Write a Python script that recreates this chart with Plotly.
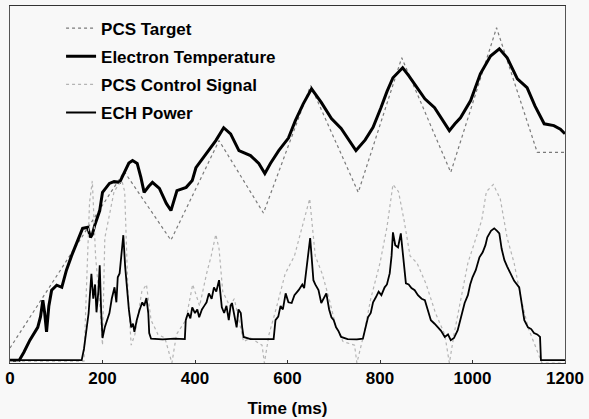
import plotly.graph_objects as go

# ---- data (time in ms, signal in arbitrary units 0-100) ----
target_t = [0, 247, 348, 452, 548, 650, 753, 847, 953, 1052, 1140, 1200]
target_v = [4.2, 53.6, 34.4, 62.3, 42.0, 77.7, 47.8, 85.5, 53.4, 93.9, 59.0, 59.0]

te_t = [0, 20, 30, 43, 60, 66, 71, 75, 79, 84, 90, 101, 112, 122, 133, 146, 157, 168, 174, 178,
        183, 194, 200, 215, 225, 237, 247, 257, 265, 275, 283, 290, 300, 308, 323, 338, 348, 361,
        381, 394, 402, 424, 445, 462, 477, 495, 520, 538, 551, 563, 581, 602, 617, 634, 652, 673,
        695, 716, 731, 748, 768, 785, 802, 815, 828, 849, 862, 875, 897, 918, 935, 950, 962, 974,
        996, 1017, 1039, 1058, 1075, 1097, 1118, 1135, 1155, 1176, 1190, 1200]
te_v = [0.8, 0.8, 3, 6.4, 10, 13, 17.6, 14, 8.7, 16, 20.4, 21.8, 21.2, 26, 30, 34.4, 37.7, 38, 35.2, 36,
        38.5, 42.7, 47.8, 50.3, 50.8, 50.6, 53.4, 56, 56.7, 55.9, 52, 47.8, 49.5, 50.6, 48.9, 44.7, 42.7, 48.3,
        49.2, 51.1, 54.7, 58.7, 62.3, 65.9, 64.2, 59.5, 58.1, 55.9, 53.1, 55.9, 59.5, 63, 67.9, 72.6, 76.8, 73,
        68.5, 65.7, 62.8, 59.5, 62.5, 66, 71.5, 76, 79.9, 82.7, 80.5, 78.2, 74, 71.5, 68, 65.1, 67, 68.7,
        73.5, 81, 86, 88, 85.5, 79.6, 77.1, 72, 67, 66.5, 65.5, 64.2]

ctrl_t = [0, 160, 165, 172, 178, 185, 195, 200, 205, 215, 225, 235, 242, 248, 255, 262, 270, 285, 295,
          305, 320, 335, 350, 360, 380, 395, 410, 425, 435, 445, 452, 460, 475, 485, 495, 505, 520, 545,
          550, 560, 575, 595, 615, 635, 648, 660, 675, 690, 705, 720, 745, 750, 765, 780, 800, 815, 828,
          840, 852, 865, 880, 900, 920, 940, 950, 960, 975, 990, 1005, 1020, 1030, 1045, 1060, 1075, 1090,
          1105, 1120, 1135, 1150, 1200]
ctrl_v = [0.5, 0.5, 20, 45, 51, 30, 15, 5, 35, 42, 48, 50, 51, 48, 20, 5, 8, 20, 22,
          12, 8, 7, 0, 8, 12, 22, 16, 25, 30, 36, 32, 20, 16, 18, 12, 6, 7, 5,
          0, 8, 15, 25, 30, 40, 46, 30, 25, 18, 10, 6, 5, 0, 8, 18, 28, 38, 50,
          48, 40, 30, 28, 22, 14, 8, 0, 8, 18, 28, 34, 40, 48, 50, 46, 35, 28,
          18, 10, 5, 0, 0]

ech_t = [0, 155, 160, 165, 170, 176, 180, 184, 187, 191, 194, 197, 200, 205, 210, 215, 220, 226, 230, 233,
         237, 241, 245, 249, 252, 257, 262, 266, 269, 274, 280, 286, 290, 295, 299, 301, 305, 330, 355, 378,
         380, 385, 390, 394, 400, 405, 409, 415, 420, 425, 430, 436, 441, 446, 452, 455, 458, 463, 468, 473,
         477, 480, 485, 490, 494, 499, 502, 505, 520, 545, 570, 574, 580, 585, 590, 596, 602, 609, 615, 624,
         632, 636, 641, 645, 649, 652, 656, 660, 667, 673, 678, 684, 690, 695, 700, 705, 710, 716, 730, 750,
         763, 768, 774, 780, 785, 791, 797, 803, 810, 815, 821, 825, 828, 833, 839, 845, 850, 856, 862, 868,
         875, 882, 890, 897, 903, 910, 918, 925, 932, 940, 947, 953, 960, 968, 975, 983, 990, 995, 1000, 1007,
         1015, 1022, 1028, 1032, 1040, 1047, 1053, 1058, 1063, 1069, 1075, 1082, 1090, 1101, 1106, 1112, 1120,
         1127, 1133, 1140, 1146, 1148, 1200]
ech_v = [0.8, 0.8, 4, 9.2, 14, 25, 18, 22, 14.2, 20, 27.4, 15, 7, 10, 12, 14, 18, 21.2, 17, 24,
         25.1, 30.2, 35.8, 27, 22.3, 15, 10, 11, 8.7, 12, 14.8, 17, 16, 18.2, 14, 8.4, 6.8, 6.6, 6.8, 6.7,
         12, 14, 12.5, 15.6, 14, 15, 12.8, 15, 16, 17, 19.5, 18, 21.2, 20, 23.2, 19, 15.6, 14, 16, 12,
         16, 16.8, 13, 10, 15, 14, 10, 7.3, 6.7, 6.6, 6.7, 12, 13, 16, 15, 19.5, 17, 16.8, 19, 20.4,
         22, 21, 26, 30, 35, 30, 23.2, 22, 20.4, 16.8, 18, 19.5, 15, 12.8, 12, 10, 9, 7.3, 6.7, 6.6,
         6.8, 10, 12.8, 14, 17, 18.4, 20, 19, 21.2, 22, 25.1, 30, 36.6, 33, 32.4, 36.3, 30, 22.3, 22, 21,
         20.4, 19, 18, 17.6, 15, 12, 11, 10, 9, 7.3, 8, 6.4, 7, 9.2, 13, 16.8, 19, 22, 24, 26,
         29.6, 31, 33, 35.2, 37, 37.7, 37, 36.3, 32, 28.8, 27, 25.1, 23, 21.2, 17, 12, 10,
         9.5, 8.4, 8, 7.3, 0.8, 0.8]

x_ticks = [0, 200, 400, 600, 800, 1000, 1200]

font_family = "Liberation Sans, Arial, sans-serif"

fig = go.Figure()
fig.add_trace(go.Scatter(x=target_t, y=target_v, name="PCS Target", mode="lines",
                         line=dict(color="#7a7a7a", width=1.2, dash="dot"), legendgroup="a"))
fig.add_trace(go.Scatter(x=te_t, y=te_v, name="Electron Temperature", mode="lines",
                         line=dict(color="#000000", width=3), legendgroup="b"))
fig.add_trace(go.Scatter(x=ctrl_t, y=ctrl_v, name="PCS Control Signal", mode="lines",
                         line=dict(color="#b4b4b4", width=1.2, dash="dot"), legendgroup="c"))
fig.add_trace(go.Scatter(x=ech_t, y=ech_v, name="ECH Power", mode="lines",
                         line=dict(color="#000000", width=1.8), legendgroup="d"))

fig.update_layout(
    width=589, height=419,
    margin=dict(l=10, r=21, t=5, b=56),
    paper_bgcolor="#f8f8f8", plot_bgcolor="#f8f8f8",
    font=dict(family=font_family, size=17, color="#000000", weight="bold"),
    showlegend=True,
    legend=dict(x=0.092, y=0.987, xanchor="left", yanchor="top",
                bgcolor="rgba(0,0,0,0)", traceorder="grouped", tracegroupgap=3,
                font=dict(family=font_family, size=17, color="#000000", weight="bold")),
    xaxis=dict(range=[0, 1200], tickvals=x_ticks, ticktext=[str(v) for v in x_ticks],
               showgrid=False, zeroline=False, showline=True, mirror=True,
               linecolor="#333333", linewidth=1, ticks="inside", ticklen=3, tickcolor="#333333",
               title=dict(text="Time (ms)", standoff=14,
                          font=dict(family=font_family, size=17, weight="bold")),
               tickfont=dict(family=font_family, size=17, weight="bold")),
    yaxis=dict(range=[0, 100], showticklabels=False, showgrid=False, zeroline=False,
               showline=True, mirror=True, linecolor="#555555", linewidth=1, ticks=""),
)

fig.write_html("out.html", config={"displayModeBar": False},
               post_script="document.body.style.margin='0px';")
